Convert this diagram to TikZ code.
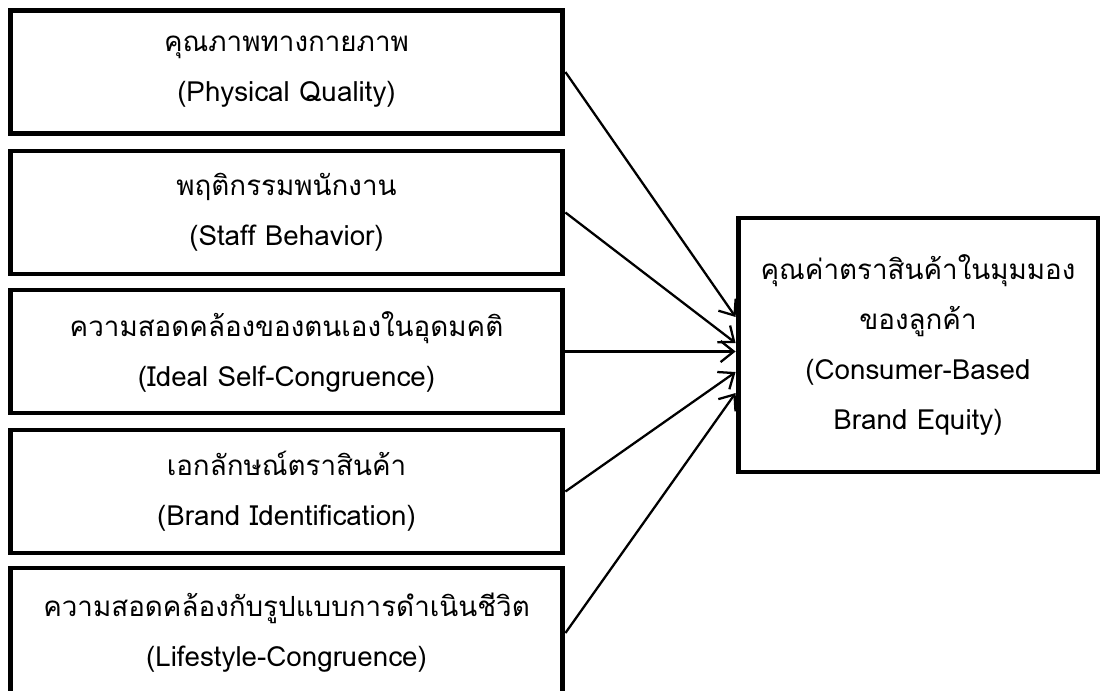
\documentclass[tikz,border=0pt]{standalone}
\usepackage{fontspec}
\newfontfamily\thaifont[Script=Thai]{Loma}
\usetikzlibrary{arrows.meta,positioning,calc}

\begin{document}
\begin{tikzpicture}[x=0.02cm,y=-0.02cm,
  factor/.style={draw,line width=2.8pt,minimum width=11.06cm,minimum height=2.46cm,
    inner sep=0pt,align=center,font=\thaifont\fontsize{15.8}{28.45}\selectfont},
  outcome/.style={factor,minimum width=7.2cm,minimum height=5.08cm},
  link/.style={line width=1.3pt,-{Straight Barb[length=7.5pt,width=12pt]}}]
\useasboundingbox (0,0) rectangle (1101,690);
\node[factor] (phys) at (286.5,72) {คุณภาพทางกายภาพ\\(Physical Quality)};
\node[factor] (staff) at (286.5,212.5) {พฤติกรรมพนักงาน\\(Staff Behavior)};
\node[factor] (ideal) at (286.5,351.5) {ความสอดคล้องของตนเองในอุดมคติ\\(Ideal Self-Congruence)};
\node[factor] (ident) at (286.5,491.5) {เอกลักษณ์ตราสินค้า\\(Brand Identification)};
\node[factor,minimum height=2.6cm] (life) at (286.5,633) {ความสอดคล้องกับรูปแบบการดำเนินชีวิต\\(Lifestyle-Congruence)};
\node[outcome] (cbbe) at (918,345) {คุณค่าตราสินค้าในมุมมอง\\ของลูกค้า\\(Consumer-Based\\Brand Equity)};
\coordinate (in1) at ($(cbbe.west)+(0,-28)$);
\coordinate (in2) at ($(cbbe.west)+(0,-2)$);
\coordinate (in3) at (cbbe.west |- ideal.east);
\coordinate (in4) at ($(cbbe.west)+(0,27)$);
\coordinate (in5) at ($(cbbe.west)+(0,48)$);
\draw[link] (phys.east) -- (in1);
\draw[link] (staff.east) -- (in2);
\draw[link] (ideal.east) -- (in3);
\draw[link] (ident.east) -- (in4);
\draw[link] (life.east) -- (in5);
\end{tikzpicture}
\end{document}
